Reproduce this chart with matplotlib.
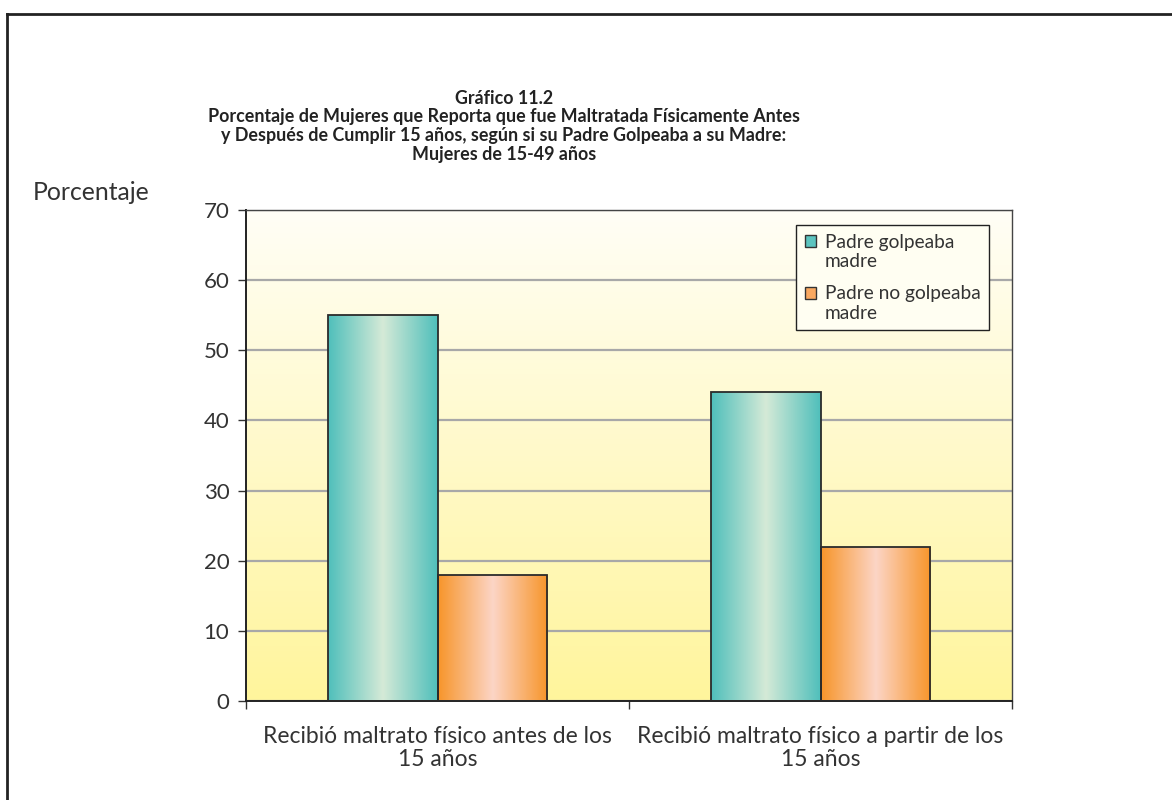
import numpy as np
import matplotlib
matplotlib.use('Agg')
import matplotlib.pyplot as plt
from matplotlib.colors import LinearSegmentedColormap
from matplotlib.patches import Patch, Rectangle
from matplotlib.legend_handler import HandlerPatch
from matplotlib.lines import Line2D

# Datos del gráfico
categorias = ['Recibió maltrato físico antes de los\n15 años',
              'Recibió maltrato físico a partir de los\n15 años']
series = ['Padre golpeaba\nmadre', 'Padre no golpeaba\nmadre']
golpeaba = [55, 44]
no_golpeaba = [18, 22]
yticks = [0, 10, 20, 30, 40, 50, 60, 70]

plt.rcParams['font.family'] = ['Lato', 'DejaVu Sans']

fig = plt.figure(figsize=(11.72, 8.0), dpi=100)
ax = fig.add_axes([0.2099, 0.12375, 0.6536, 0.61375])

# fondo degradado del área de trazado
bg = LinearSegmentedColormap.from_list('bg', ['#FFF59C', '#FFFEF6'])
ax.imshow(np.linspace(0, 1, 256).reshape(-1, 1), cmap=bg, origin='lower',
          extent=(0, 1, 0, 1), transform=ax.transAxes, aspect='auto', zorder=0)

cm_teal = LinearSegmentedColormap.from_list('teal', ['#4FBFBB', '#D5EAD7', '#4FBFBB'])
cm_orng = LinearSegmentedColormap.from_list('orng', ['#F7952A', '#FCD5C6', '#F7952A'])
grad = np.linspace(0, 1, 256).reshape(1, -1)

x = np.arange(len(categorias))
w = 0.287
for vals, off, cmap in [(golpeaba, -w / 2, cm_teal), (no_golpeaba, w / 2, cm_orng)]:
    bars = ax.bar(x + off, vals, w, facecolor='none', edgecolor='#2b2b2b',
                  linewidth=1.3, zorder=3)
    for b in bars:
        im = ax.imshow(grad, cmap=cmap, aspect='auto', zorder=2,
                       extent=(b.get_x(), b.get_x() + b.get_width(), 0, b.get_height()))
        im.set_clip_path(b)

ax.set_xlim(-0.5, 1.5)
ax.set_ylim(0, 70)
ax.set_yticks(yticks)
ax.set_xticks(x)
ax.set_xticklabels(categorias, fontsize=16.5, color='#333333', linespacing=1.1)
ax.set_xticks([-0.5, 0.5, 1.5], minor=True)
ax.tick_params(axis='x', which='major', length=0, pad=18)
ax.tick_params(axis='x', which='minor', length=6, width=1, color='#333333', direction='out')
ax.tick_params(axis='y', length=6, width=1, color='#333333', pad=6,
               labelsize=16, labelcolor='#333333')

ax.set_axisbelow(True)
ax.yaxis.grid(True, color='#A8A8A8', linewidth=1.6)
for s in ['top', 'right']:
    ax.spines[s].set_color('#444444')
    ax.spines[s].set_linewidth(1.0)
for s in ['left', 'bottom']:
    ax.spines[s].set_color('#222222')
    ax.spines[s].set_linewidth(1.4)


# cuadro de la leyenda alineado con la primera línea del texto
def cuadro_arriba(legend, orig_handle, xdescent, ydescent, width, height, fontsize):
    return Rectangle((-xdescent, -ydescent + 8), width, height)


handles = [Patch(facecolor='#5CC4BF', edgecolor='#333333', label=series[0]),
           Patch(facecolor='#F9A860', edgecolor='#333333', label=series[1])]
leg = ax.legend(handles=handles, loc='upper right', bbox_to_anchor=(0.970, 0.969),
                borderaxespad=0, fontsize=13.8, frameon=True, fancybox=False,
                edgecolor='#222222', facecolor='#FFFEF2', framealpha=1,
                handlelength=0.6, handleheight=0.6, handletextpad=0.45,
                labelspacing=0.8, borderpad=0.45, labelcolor='#333333',
                handler_map={Patch: HandlerPatch(patch_func=cuadro_arriba)})
leg.get_frame().set_linewidth(1.0)
for t in leg.get_texts():
    t.set_linespacing(1.16)

fig.text(0.43, 0.842,
         'Gráfico 11.2\n'
         'Porcentaje de Mujeres que Reporta que fue Maltratada Físicamente Antes\n'
         'y Después de Cumplir 15 años, según si su Padre Golpeaba a su Madre:\n'
         'Mujeres de 15-49 años',
         ha='center', va='center', fontsize=12.9, fontweight='bold',
         color='#222222', linespacing=1.13)
fig.text(0.028, 0.76, 'Porcentaje', fontsize=17.8, color='#333333', va='center')

# marco exterior
fig.add_artist(Line2D([0.006, 1.0], [0.9825, 0.9825], transform=fig.transFigure,
                      color='#222222', linewidth=2))
fig.add_artist(Line2D([0.006, 0.006], [0.0, 0.9825], transform=fig.transFigure,
                      color='#222222', linewidth=2))

fig.savefig('out.png', dpi=100)
